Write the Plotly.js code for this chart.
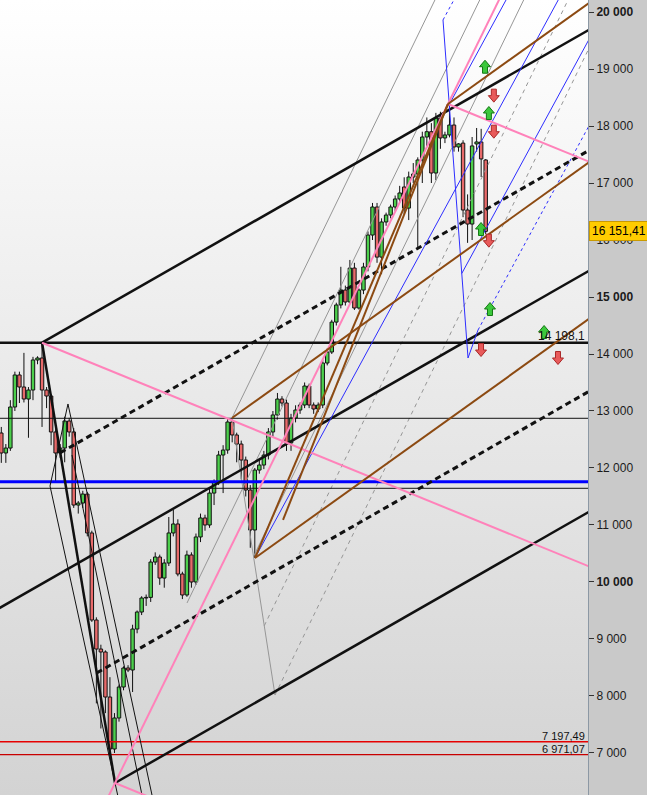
<!DOCTYPE html>
<html><head><meta charset="utf-8">
<script src="https://cdn.plot.ly/plotly-3.0.1.min.js"></script>
<style>
html,body{margin:0;padding:0;overflow:hidden;background:#c9c9c9}
#wrap{position:relative;width:647px;height:795px}
#bgPlot{position:absolute;left:0;top:0;width:588px;height:795px;background:linear-gradient(to bottom,#ffffff 0%,#ebebeb 45%,#d3d3d3 100%)}
#bgAxis{position:absolute;left:588px;top:0;width:59px;height:795px;background:#c9c9c9}
#chart{position:absolute;left:0;top:0;width:647px;height:795px}
</style></head><body>
<div id="wrap"><div id="bgPlot"></div><div id="bgAxis"></div><div id="chart"></div></div>
<script>
// ---------------- candle data ----------------
const openP = [12614,12263,12350,13070,13632,13421,13210,13368,13895,13930,13368,13263,12632,12263,12350,12825,12632,11350,11385,11543,
 10860,9333,8824,8772,7982,7070,7614,8158,8491,8456,9175,9473,9719,9730,10350,10438,10069,10333,10860,11018,
 10140,9772,10474,10000,10790,11123,11000,11560,11750,12228,12315,12807,12579,12420,12140,11614,10912,11964,12052,12228,
 12632,12930,13210,13140,12439,12877,13017,13105,13438,13105,13035,13105,13842,14035,14560,14860,15122,14912,15508,14807,
 15122,15526,16087,16579,15700,16316,16438,16579,16720,16930,16560,17105,17158,17404,17807,17900,17175,18140,17790,17843,
 18017,17632,17700,16526,16280,17685,17720,17404];
const highP = [12720,12420,13190,13690,13690,14020,13420,13950,13960,14198.1,13420,13300,12680,12420,12900,12880,12700,11420,11600,11580,
 10900,9380,8900,8800,8330,7700,8200,8520,8540,9250,9500,9750,9780,10400,10520,10480,10400,11140,11263,11100,
 10180,10550,10520,10850,11200,11180,11650,11800,12300,12400,12877,12850,12620,12480,12200,11700,12000,12150,12300,12700,
 13000,13316,13260,13200,12950,13100,13150,13500,13480,13150,13150,13900,14100,14600,14900,15530,15200,15650,15600,15150,
 15600,16150,16650,16650,16380,16480,16620,16780,16950,17100,17200,17350,17450,17900,18150,18050,18230,18250,17900,18386,
 18150,17700,17750,16800,17807,17965,17950,17420];
const lowP = [12090,12090,12300,13000,13140,13150,12530,13190,13820,12720,13050,12400,11737,12180,12100,12550,11300,11200,11300,10800,
 9300,7870,7430,7700,6971.07,7000,7550,8100,8420,8070,9100,9420,9580,9650,10300,9950,9900,10280,10800,10100,
 9700,9740,9900,9950,10700,10900,10950,11350,11700,11560,12250,12450,12100,11800,11500,10600,10421,11900,11980,12150,
 12550,12850,13080,12300,12300,12800,12950,13050,13050,12950,12980,13050,13800,14000,14500,14800,14850,14880,14772,14780,
 15050,15450,16000,15600,15400,16250,16380,16500,16650,16450,16350,17000,15870,17000,17650,17000,17050,17600,17700,17800,
 17550,17550,16400,15950,16000,17550,17105,16100];
const closeP = [12263,12350,13070,13632,13421,13210,13368,13895,13930,13368,13263,12632,12263,12350,12825,12632,11350,11385,11543,10860,
 9333,8824,8772,7982,7070,7614,8158,8491,8456,9175,9473,9719,9730,10350,10438,10069,10333,10860,11018,10140,
 9772,10474,10000,10790,11123,11000,11560,11750,12228,12315,12807,12579,12420,12140,11614,10912,11964,12052,12228,12632,
 12930,13210,13140,12439,12877,13017,13105,13438,13105,13035,13105,13842,14035,14560,14860,15122,14912,15508,14807,15122,
 15526,16087,16579,15700,16316,16438,16579,16720,16825,16560,17105,17158,17404,17807,17900,17175,18140,17790,17843,18017,
 17632,17685,16526,16280,17650,17720,17422,16151.41];
const candleIdx = openP.map((_, i) => i);

// ---------------- axis ticks ----------------
const priceTicks = [7000,8000,9000,10000,11000,12000,13000,14000,15000,16000,17000,18000,19000,20000];
const lastPrice = 16151.41;

// ---------------- horizontal levels ----------------
const levelMain = 14198.1;
const levelThinHigh = 12872;
const levelBlue = 11760;
const levelThinLow = 11644;
const levelRedHigh = 7197.49;
const levelRedLow = 6971.07;

// ---------------- drawing anchors (candle index, price) ----------------
const forkB = [9, 14198.1];
const forkC = [25.12, 6474];
const forkSlope = 45.43;
const peakTop = [98.67, 18386];
const pinkSlope = -32.48;
const brownLeft = [50.96, 12877];
const vertex = [56.04, 10421];
const brownSteep2 = [62.23, 11088];
const brownSlope = 56.87;
const blueB = [97.57, 19860];
const blueC = [103.1, 13930];
const blueHook = [105.3, 14420];
const grayA = [41.02, 9632];
const grayB = [50.96, 12877];
const grayC = [60.46, 8017];
const graySlope = 163.6;
const thinApex = [14.73, 13123];
const thinKnee = [10.76, 11684];
const thinEnd1 = [33.29, 6263];
const thinStart4 = [15.62, 12228];
const thinEnd4 = [31.08, 6263];

// ---------------- signal arrows (candle index, price) ----------------
const upArrowX = [106.85, 107.7, 105.97, 107.95, 119.9];
const upArrowY = [19040, 18228, 16193, 14789, 14386];
const downArrowX = [108.8, 108.8, 107.7, 105.97, 122.97];
const downArrowY = [18532, 17900, 15988, 14070, 13930];

// ---------------- helpers ----------------
const X_RANGE = [-0.287, 129.6];
const Y_RANGE = [6263, 20210.5];
const FAR = 400;
function fmt(v){ return String(v).replace(/\B(?=(\d{3})+(?!\d))/g, ' '); }
function lerp(p, q, t){ return [p[0] + (q[0]-p[0])*t, p[1] + (q[1]-p[1])*t]; }
function ray(p, slope){ return {x:[p[0], FAR], y:[p[1], p[1] + slope*(FAR - p[0])]}; }
function fullLine(p, slope){ return {x:[-FAR, FAR], y:[p[1] + slope*(-FAR - p[0]), p[1] + slope*(FAR - p[0])]}; }
function seg(p, q){ return {x:[p[0], q[0]], y:[p[1], q[1]]}; }
function segExt(p, q){ const s = (q[1]-p[1])/(q[0]-p[0]); const x2 = q[0] + (q[0] > p[0] ? 20 : -20); return {x:[p[0], x2], y:[p[1], p[1] + s*(x2 - p[0])]}; }
function hline(v){ return {x:[-FAR, FAR], y:[v, v]}; }

const GREEN_FILL = '#4ccf4c', RED_FILL = '#e86a6a';
const traces = [];

// candle bodies as bars (drawn beneath the scatter lines)
const bodyBase = candleIdx.map(i => Math.min(openP[i], closeP[i]));
const bodyLen = candleIdx.map(i => Math.max(Math.abs(closeP[i] - openP[i]), 1));
traces.push({type:'bar', x:candleIdx, base:bodyBase, y:bodyLen, width:0.76,
  marker:{color:candleIdx.map(i => closeP[i] >= openP[i] ? GREEN_FILL : RED_FILL), line:{color:'#111', width:1}},
  hoverinfo:'skip', showlegend:false});

// wicks (above and below the body only)
const wx = [], wy = [];
candleIdx.forEach(i => {
  const top = Math.max(openP[i], closeP[i]), bot = Math.min(openP[i], closeP[i]);
  if (highP[i] > top) { wx.push(i, i, null); wy.push(top, highP[i], null); }
  if (lowP[i] < bot) { wx.push(i, i, null); wy.push(bot, lowP[i], null); }
});
traces.push({type:'scatter', mode:'lines', x:wx, y:wy, line:{color:'#111', width:1}, hoverinfo:'skip', showlegend:false, connectgaps:false});

function addLine(d, color, width, dash){
  traces.push({type:'scatter', mode:'lines', x:d.x, y:d.y, line:{color:color, width:width, dash:dash || 'solid'}, hoverinfo:'skip', showlegend:false});
}

const BLACK = '#111111', PINK = 'rgb(255,130,186)', BROWN = 'rgb(140,74,18)', BLUE = 'rgb(45,45,255)', GRAY = 'rgb(150,150,150)';

// gray fork
const grayMid = lerp(grayB, grayC, 0.5);
const grayQ3 = lerp(grayB, grayC, 0.75);
addLine(seg(grayB, grayC), GRAY, 1);
addLine(ray(grayA, graySlope), GRAY, 1);
addLine(ray(grayB, graySlope), GRAY, 1);
addLine(ray(grayMid, graySlope), GRAY, 1);
addLine(ray(grayQ3, graySlope), GRAY, 1, '4px,4px');
addLine(ray(grayC, graySlope), GRAY, 1, '4px,4px');

// horizontal levels
addLine(hline(levelThinHigh), BLACK, 1);
addLine(hline(levelThinLow), BLACK, 1);
addLine(hline(levelBlue), 'rgb(0,0,255)', 3);
addLine(hline(levelRedHigh), 'rgb(230,0,0)', 1.3);
addLine(hline(levelRedLow), 'rgb(200,0,0)', 1.3);
addLine(hline(levelMain), BLACK, 2.5);

// thin black lines near the drop
addLine(segExt(thinApex, thinEnd1), BLACK, 1);
addLine(seg(thinApex, thinKnee), BLACK, 1);
addLine(segExt(thinKnee, forkC), BLACK, 1);
addLine(segExt(thinStart4, thinEnd4), BLACK, 1);

// black pitchfork
addLine(seg(forkB, forkC), BLACK, 2.5);
addLine(ray(forkB, forkSlope), BLACK, 2.5);
addLine(ray(lerp(forkB, forkC, 0.25), forkSlope), BLACK, 3, '6px,4px');
addLine(fullLine(lerp(forkB, forkC, 0.5), forkSlope), BLACK, 2.5);
addLine(ray(lerp(forkB, forkC, 0.75), forkSlope), BLACK, 3, '6px,4px');
addLine(ray(forkC, forkSlope), BLACK, 2.5);

// blue fork
const blueMid = lerp(blueB, blueC, 0.5);
const blueSlope = (blueMid[1] - vertex[1]) / (blueMid[0] - vertex[0]);
addLine(seg(blueB, blueC), BLUE, 1);
addLine(seg(blueC, blueHook), BLUE, 1);
addLine(ray(vertex, blueSlope), BLUE, 1);
addLine(ray(lerp(blueB, blueC, 0.25), blueSlope), BLUE, 1);
addLine(ray(lerp(blueB, blueC, 0.75), blueSlope), BLUE, 1);
addLine(ray(blueB, blueSlope), BLUE, 1, '3px,3px');
addLine(ray(blueHook, blueSlope), BLUE, 1, '3px,3px');

// pink
addLine(ray(forkB, pinkSlope), PINK, 2);
addLine(fullLine(forkC, (peakTop[1]-forkC[1])/(peakTop[0]-forkC[0])), PINK, 2);
addLine(ray(peakTop, pinkSlope), PINK, 2);
addLine(ray(forkC, pinkSlope), PINK, 2);

// brown
addLine(ray(brownLeft, brownSlope), BROWN, 2);
addLine(ray(vertex, brownSlope), BROWN, 2);
addLine(ray(peakTop, brownSlope), BROWN, 2);
addLine(seg(vertex, peakTop), BROWN, 2);
addLine(seg(brownSteep2, peakTop), BROWN, 2);

// arrows as pixel-sized shapes anchored on data points
const upPath = 'M-2.5,-6.5 L2.5,-6.5 L2.5,0 L5.5,0 L0,6.5 L-5.5,0 L-2.5,0 Z';
const downPath = 'M-2.5,6.5 L2.5,6.5 L2.5,0 L5.5,0 L0,-6.5 L-5.5,0 L-2.5,0 Z';
const shapes = [];
upArrowX.forEach((x, k) => shapes.push({type:'path', xref:'x', yref:'y', xsizemode:'pixel', ysizemode:'pixel',
  xanchor:x, yanchor:upArrowY[k], path:upPath, fillcolor:'rgb(60,200,60)', line:{color:'rgb(20,120,20)', width:1}}));
downArrowX.forEach((x, k) => shapes.push({type:'path', xref:'x', yref:'y', xsizemode:'pixel', ysizemode:'pixel',
  xanchor:x, yanchor:downArrowY[k], path:downPath, fillcolor:'rgb(232,90,90)', line:{color:'rgb(170,40,40)', width:1}}));

const FONT = 'Liberation Sans, Arial, sans-serif';
const annotations = [
  {xref:'x', yref:'y', x:129.4, y:levelMain, text:fmt(levelMain).replace('.', ','), xanchor:'right', yanchor:'bottom', yshift:-2, showarrow:false, font:{family:FONT, size:12, color:'#111'}},
  {xref:'x', yref:'y', x:129.4, y:levelRedHigh, text:fmt(7197) + ',49', xanchor:'right', yanchor:'bottom', yshift:-2, showarrow:false, font:{family:FONT, size:11, color:'#111'}},
  {xref:'x', yref:'y', x:129.4, y:levelRedLow, text:fmt(6971) + ',07', xanchor:'right', yanchor:'bottom', yshift:-2, showarrow:false, font:{family:FONT, size:11, color:'#111'}},
  {xref:'paper', yref:'y', x:1, y:lastPrice, text:fmt(16151) + ',41', xanchor:'left', yanchor:'middle', xshift:1, showarrow:false,
   bgcolor:'#ffcc00', bordercolor:'#c99a00', borderwidth:1, borderpad:2, font:{family:FONT, size:12, color:'#000'}}
];

const layout = {
  width:647, height:795, margin:{l:0, r:59, t:0, b:0, pad:0},
  paper_bgcolor:'rgba(0,0,0,0)', plot_bgcolor:'rgba(0,0,0,0)', showlegend:false,
  barmode:'overlay',
  xaxis:{range:X_RANGE, visible:false, fixedrange:true},
  yaxis:{range:Y_RANGE, side:'right', showgrid:false, zeroline:false, fixedrange:true,
    tickvals:priceTicks, ticktext:priceTicks.map(v => v % 5000 === 0 ? '<b>' + fmt(v) + '</b>' : fmt(v)),
    ticks:'outside', ticklen:5, tickcolor:'#333', showline:true, linecolor:'#8c98a4', linewidth:1,
    tickfont:{family:FONT, size:12, color:'#1b1b1b'}},
  shapes:shapes, annotations:annotations
};
Plotly.newPlot('chart', traces, layout, {staticPlot:true, displayModeBar:false});
</script></body></html>
